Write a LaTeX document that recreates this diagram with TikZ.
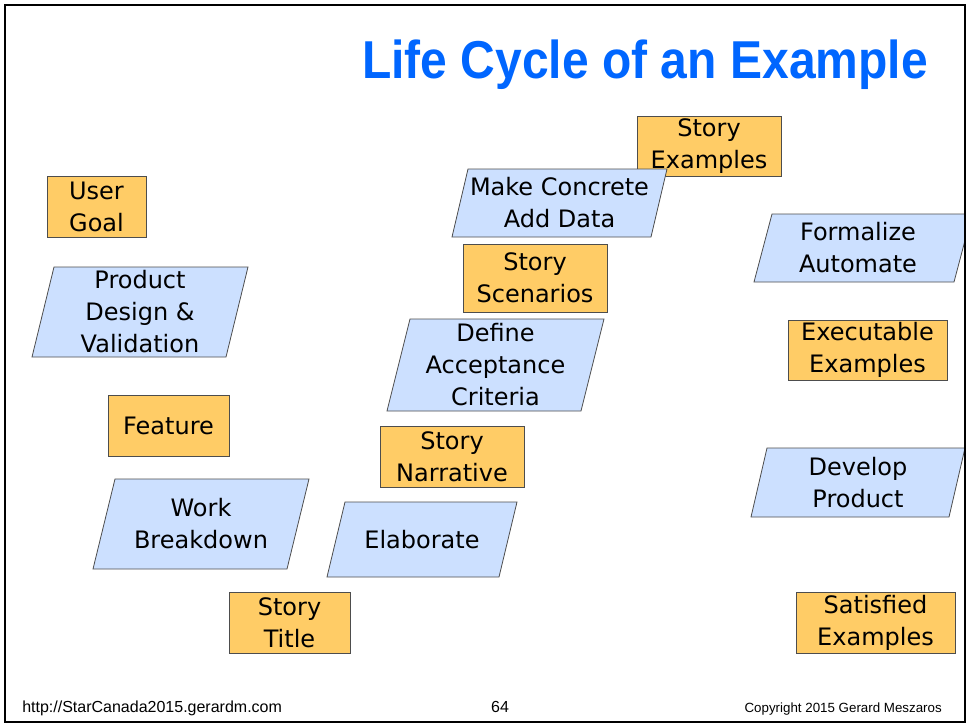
\documentclass[tikz,border=0pt]{standalone}
\usepackage{fontspec}
\setmainfont{DejaVu Sans}
\newfontfamily\headfont{Liberation Sans}
\definecolor{cardorange}{HTML}{FFCC66}
\definecolor{cardblue}{HTML}{CCE0FF}
\definecolor{titleblue}{HTML}{0066FF}
\definecolor{edgegray}{HTML}{4D4D4D}

\begin{document}
\begin{tikzpicture}[x=0.75pt,y=-0.75pt,
  card/.style={fill=cardorange,draw=edgegray,line width=0.6pt},
  act/.style={fill=cardblue,draw=edgegray,line width=0.6pt},
  lbl/.style={font=\fontsize{18}{24}\selectfont,align=center,inner sep=0pt},
  foot/.style={font=\headfont\fontsize{12}{14}\selectfont,inner sep=0pt}]
\useasboundingbox (0,0) rectangle (968,725);

\begin{scope}
\clip (5,5) rectangle (965,722);
% Work products (orange cards): left, top, width, height
\foreach \x/\y/\w/\h in {47/176/99/61, 108/395/121/61, 229/592/121/61,
    380/426/144/61, 463/244/144/68, 637/116/144/60, 788/320/159/60, 796/592/159/61}
  \draw[card] (\x,\y) rectangle ++(\w,\h);

% Activities (blue parallelograms): bottom left, width, height, slant
\foreach \x/\y/\w/\h/\s in {32/357/194/90/22, 93/569/194/90/22, 327/577/172/75/18,
    387/411/194/92/23, 452/237/199/68/16, 754/282/200/68/18, 751/517/198/69/16}
  \draw[act] (\x,\y) -- ++(\w,0) -- ++(\s,-\h) -- ++(-\w,0) -- cycle;
\end{scope}

% Labels
\foreach \nm/\x/\y/\txt in {goal/96.5/206.5/{User\\Goal},
    feature/168.5/425.5/Feature,
    storytitle/289.5/622.5/{Story\\Title},
    narrative/452/456.5/{Story\\Narrative},
    scenarios/535/278/{Story\\Scenarios},
    examples/709/146/{Story\\Examples},
    executable/867.5/350/{Executable\\Examples},
    satisfied/875.5/622.5/{Satisfied\\Examples},
    design/140/312/{Product\\Design \&\\Validation},
    breakdown/201/524/{Work\\Breakdown},
    elaborate/422/539.5/Elaborate,
    criteria/495.5/365/{Define\\Acceptance\\Criteria},
    concrete/559.5/203/{Make Concrete\\Add Data},
    formalize/858/248/{Formalize\\Automate},
    develop/858/482.5/{Develop\\Product}}
  \node[lbl] (\nm) at (\x,\y) {\txt};

% Title and footer
\node[font=\headfont\bfseries\fontsize{40}{44}\selectfont,text=titleblue,
  anchor=base,inner sep=0pt,xscale=0.9] (head) at (645,78) {Life Cycle of an Example};
\node[foot,anchor=base west] (url) at (22,712) {http://StarCanada2015.gerardm.com};
\node[foot,anchor=base] (page) at (500,712) {64};
\node[foot,anchor=base east,font=\headfont\fontsize{10}{12}\selectfont] (copy) at (942,712) {Copyright 2015 Gerard Meszaros};

\draw[line width=1.5pt] (5,5) rectangle (965,722);
\end{tikzpicture}
\end{document}
